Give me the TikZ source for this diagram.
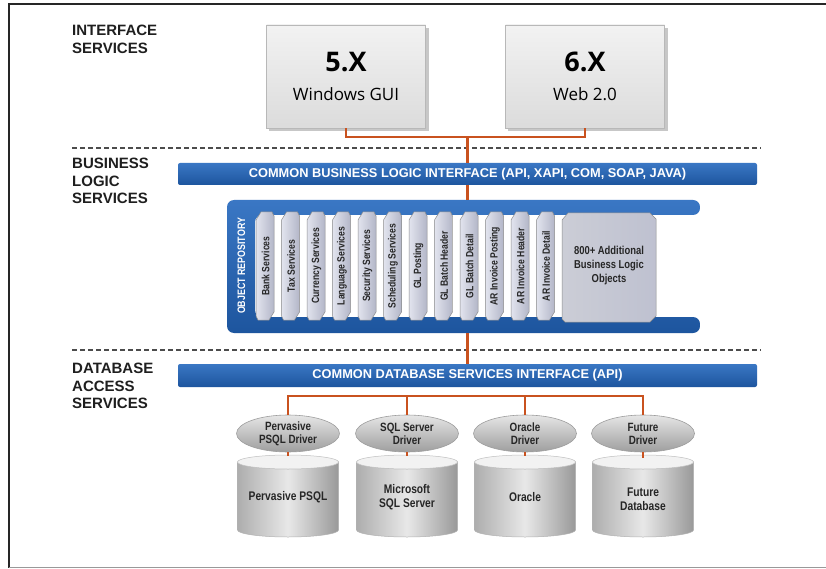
\documentclass[tikz,border=0pt]{standalone}
\usepackage{fontspec}
\setmainfont{Liberation Sans}
\newfontfamily\narrowfont[FakeStretch=0.82]{Liberation Sans Bold}
\newfontfamily\boxfont{Open Sans}
\newfontfamily\boxbold{Open Sans Bold}
\usetikzlibrary{shapes.geometric}
\definecolor{wireC}{HTML}{C9521F}
\definecolor{blueT}{HTML}{3A77C4}
\definecolor{blueB}{HTML}{1D559E}
\definecolor{tabL}{HTML}{E2E4EE}
\definecolor{tabR}{HTML}{B3B6C8}
\definecolor{txtD}{HTML}{262626}
\newcommand\mycyl[1]{%
  \path[cylbody] (#1-50.5,462) -- (#1-50.5,530)
     arc[start angle=180, end angle=0, x radius=50.5, y radius=7]
     -- (#1+50.5,462)
     arc[start angle=0, end angle=180, x radius=50.5, y radius=7] -- cycle;
  \path[cyltop] (#1,462) ellipse [x radius=50.5, y radius=7];}
\begin{document}
\begin{tikzpicture}[x=1pt,y=-1pt,
  seclabel/.style={anchor=north west, inner sep=0pt, align=left, text=black!88,
    font=\fontsize{15}{17.5}\selectfont\bfseries},
  verbox/.style={draw=black!28, line width=0.8pt, top color=black!5, bottom color=black!14,
    minimum width=159pt, minimum height=103pt, inner sep=0pt, align=center},
  boxshadow/.style={fill=black!22},
  wire/.style={draw=wireC, line width=2.6pt},
  dashline/.style={draw=black!70, line width=1.2pt, dash pattern=on 5pt off 3pt},
  bar/.style={rounded corners=2pt, top color=blueT, bottom color=blueB,
    minimum width=579pt, minimum height=22pt, inner sep=0pt, text=white,
    font=\fontsize{12.8}{14}\selectfont\bfseries},
  tabfill/.style={draw=black!45, line width=0.5pt, left color=tabL, right color=tabR},
  tabtext/.style={rotate=90, inner sep=0pt, text=txtD,
    font=\narrowfont\fontsize{10.5}{12}\selectfont},
  drv/.style={ellipse, draw=black!38, line width=0.6pt, top color=black!10, bottom color=black!38,
    minimum width=103pt, minimum height=37pt, inner sep=0pt, align=center, text=txtD,
    font=\narrowfont\fontsize{12}{13}\selectfont},
  cylbody/.style={draw=black!30, line width=0.5pt, left color=black!32, right color=black!40, middle color=black!9},
  cyltop/.style={draw=black!25, line width=0.5pt, fill=black!5},
  cyltext/.style={minimum width=101pt, minimum height=82pt, inner sep=0pt, align=center, text=txtD,
    font=\narrowfont\fontsize{12.5}{14}\selectfont}
]
\useasboundingbox (0,0) rectangle (826,569);
\fill[white] (0,0) rectangle (826,569);
% frame
\draw[line width=2.5pt, black!85] (826,4) -- (9,4) -- (9,568);
\draw[line width=1.2pt, black!40] (9,567.5) -- (826,567.5);

% section labels
\node[seclabel] (lif) at (72,25) {INTERFACE\\SERVICES};
\node[seclabel] (lbl) at (72,158) {BUSINESS\\LOGIC\\SERVICES};
\node[seclabel] (ldb) at (72,363) {DATABASE\\ACCESS\\SERVICES};

% separators
\coordinate (s1a) at (72,148); \coordinate (s1b) at (761,148);
\coordinate (s2a) at (72,350); \coordinate (s2b) at (761,350);
\draw[dashline] (s1a) -- (s1b);
\draw[dashline] (s2a) -- (s2b);

% interface boxes
\fill[boxshadow] (269,28) rectangle (428.5,131);
\fill[boxshadow] (508,28) rectangle (667.5,131);
\node[verbox] (v5) at (346,76.5) {{\boxbold\fontsize{27}{28}\selectfont 5.X}\\[14pt]{\boxfont\fontsize{17}{18}\selectfont Windows GUI}};
\node[verbox] (v6) at (585,76.5) {{\boxbold\fontsize{27}{28}\selectfont 6.X}\\[14pt]{\boxfont\fontsize{17}{18}\selectfont Web 2.0}};

% bars
\node[bar] (blbar) at (467.5,174) {COMMON BUSINESS LOGIC INTERFACE (API, XAPI, COM, SOAP, JAVA)};
\node[bar, minimum height=23pt] (dbbar) at (467.5,375.5) {COMMON DATABASE SERVICES INTERFACE (API)};

% object repository container
\path[top color=blueT, bottom color=blueB, rounded corners=7pt]
  (227,200) -- (700,200) -- (700,215) -- (255,215) -- (255,317) -- (700,317) -- (700,333) -- (227,333) -- cycle;
\coordinate (repotop) at (467.5,200);
\coordinate (repobot) at (467.5,333);
\node[rotate=90, inner sep=0pt, text=white, font=\narrowfont\fontsize{10.8}{12}\selectfont] (objrep) at (241.5,266) {OBJECT REPOSITORY};

% tabs
\foreach \lab [count=\i from 0] in {Bank Services, Tax Services, Currency Services, Language Services,
  Security Services, Scheduling Services, GL Posting, GL Batch Header, GL Batch Detail,
  AR Invoice Posting, AR Invoice Header, AR Invoice Detail}{
  \pgfmathsetmacro\xa{256+25.5*\i}
  \path[tabfill] (\xa,220) -- (\xa+5,212) -- (\xa+16,212) -- (\xa+18,216) -- (\xa+18,312)
     -- (\xa+13,320) -- (\xa+2,320) -- (\xa,316) -- cycle;
  \node[tabtext] (t\i) at (\xa+9.5,266) {\lab};
}
% big object box
\path[tabfill, left color=black!10!tabL, right color=tabR!85]
  (562,220) -- (568,213) -- (650,213) -- (656,219) -- (656,316) -- (650,322) -- (565,322) -- (562,319) -- cycle;
\node[align=center, inner sep=0pt, text=txtD, font=\narrowfont\fontsize{11.5}{14}\selectfont] (more) at (609,266)
  {800+ Additional\\Business Logic\\Objects};

% drivers
\node[drv] (d1) at (288,433.5) {Pervasive\\PSQL Driver};
\node[drv] (d2) at (407,433.5) {SQL Server\\Driver};
\node[drv] (d3) at (525,433.5) {Oracle\\Driver};
\node[drv] (d4) at (643,433.5) {Future\\Driver};

% databases
\mycyl{288}\mycyl{407}\mycyl{525}\mycyl{643}
\node[cyltext] (c1) at (288,497) {Pervasive PSQL};
\node[cyltext] (c2) at (407,497) {Microsoft\\SQL Server};
\node[cyltext] (c3) at (525,497) {Oracle};
\node[cyltext] (c4) at (643,499) {Future\\Database};

% connectors
\coordinate (j1) at (467.5,137);
\draw[wire] (v5.south) |- (j1) -| (v6.south);
\draw[wire] (j1) -- (blbar.north);
\draw[wire] (blbar.south) -- (repotop);
\draw[wire] (repobot) -- (dbbar.north);
\coordinate (bus) at (0,396);
\draw[wire] (d1.north) -- (d1.north |- bus) -- (d4.north |- bus) -- (d4.north);
\draw[wire] (d2.north) -- (d2.north |- bus);
\draw[wire] (d3.north) -- (d3.north |- bus);
\foreach \k in {1,2,3,4}{\draw[wire] (d\k.south) -- (c\k.north);}
\end{tikzpicture}
\end{document}
